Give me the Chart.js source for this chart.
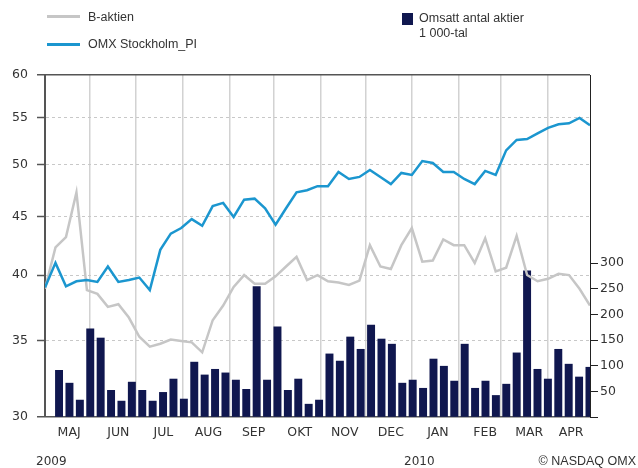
<!DOCTYPE html>
<html>
<head>
<meta charset="utf-8">
<script src="https://cdn.jsdelivr.net/npm/chart.js@4.4.0/dist/chart.umd.min.js"></script>
<style>
  body { margin: 0; background: #fff; }
  #wrap { position: relative; width: 638px; height: 468px; font-family: "Liberation Sans", Arial, sans-serif; color: #333; }
  canvas { position: absolute; left: 0; top: 0; }
  .lbl { position: absolute; font-size: 12.5px; line-height: 14px; white-space: nowrap; }
  .yr { position: absolute; font-family: "DejaVu Sans", sans-serif; font-size: 12px; line-height: 14px; }
  .sw { position: absolute; }
</style>
</head>
<body>
<div id="wrap">
  <canvas id="chart" width="638" height="468"></canvas>
  <div class="sw" style="left:47px;top:15px;width:33px;height:3px;background:#c6c6c6"></div>
  <div class="lbl" id="lgB" style="left:88px;top:10px"></div>
  <div class="sw" style="left:47px;top:43px;width:33px;height:3px;background:#1b96cf"></div>
  <div class="lbl" id="lgO" style="left:88px;top:37px"></div>
  <div class="sw" style="left:402px;top:13px;width:11px;height:12px;background:#10174f"></div>
  <div class="lbl" id="lgV" style="left:419px;top:11px"></div>
  <div class="lbl" style="left:419px;top:26px">1 000-tal</div>
  <div class="yr" style="left:36px;top:454px">2009</div>
  <div class="yr" style="left:404px;top:454px">2010</div>
  <div class="lbl" style="right:2px;top:454px">© NASDAQ OMX</div>
</div>
<script>
// weekly closes, May 2009 - Apr 2010
const bAktien = [38.9, 42.3, 43.2, 47.3, 38.8, 38.5, 37.5, 37.7, 36.7, 35.3,
                 34.6, 34.8, 35.1, 35.0, 34.9, 34.2, 36.5, 37.6, 39.05, 40.0,
                 39.3, 39.3, 39.9, 40.7, 41.5, 39.6, 40.0, 39.5, 39.4, 39.2,
                 39.55, 42.5, 40.7, 40.5, 42.5, 44.0, 41.1, 41.2, 43.0, 42.5,
                 42.5, 41.0, 43.1, 40.3, 40.6, 43.3, 40.0, 39.5, 39.7, 40.1,
                 40.0, 38.9, 37.6];
const omxPI = [39.0, 41.0, 39.1, 39.5, 39.6, 39.45, 40.7, 39.45, 39.6, 39.8,
               38.8, 42.1, 43.5, 44.0, 44.8, 44.2, 46.0, 46.3, 45.0, 46.6,
               46.7, 45.8, 44.3, 45.8, 47.3, 47.5, 47.9, 47.9, 49.3, 48.6,
               48.8, 49.5, 48.8, 48.1, 49.2, 49.0, 50.4, 50.2, 49.3, 49.3,
               48.6, 48.1, 49.4, 49.0, 51.5, 52.6, 52.7, 53.3, 53.9, 54.3,
               54.4, 55.0, 54.2];
// turnover, thousands of shares per week
const volume = [91, 66, 33, 172, 154, 52, 31, 68, 52, 31,
                48, 74, 35, 107, 82, 93, 86, 72, 54, 254,
                72, 176, 52, 74, 25, 33, 123, 109, 156, 132,
                179, 152, 142, 66, 72, 56, 113, 99, 70, 142,
                56, 70, 42, 64, 125, 285, 93, 74, 132, 103,
                78, 97];

const monthLabels = ['MAJ', 'JUN', 'JUL', 'AUG', 'SEP', 'OKT', 'NOV', 'DEC', 'JAN', 'FEB', 'MAR', 'APR'];
const monthTicks = [2.3, 7.0, 11.3, 15.6, 19.9, 24.3, 28.6, 33.0, 37.5, 42.0, 46.2, 50.2];
const monthStarts = [4.3, 8.7, 13.1, 17.6, 21.8, 26.3, 30.6, 35.0, 39.5, 43.5, 48.0];
const priceTicks = [30, 35, 40, 45, 50, 55, 60];
const volumeTicks = [0, 50, 100, 150, 200, 250, 300];

const labelB = 'B-aktien';
const labelO = 'OMX Stockholm_PI';
const labelV = 'Omsatt antal aktier';
document.getElementById('lgB').textContent = labelB;
document.getElementById('lgO').textContent = labelO;
document.getElementById('lgV').textContent = labelV;

const tickFont = { family: 'DejaVu Sans', size: 12.5 };
const isEdge = c => c.tick && (c.tick.value === 30 || c.tick.value === 60);

new Chart(document.getElementById('chart'), {
    type: 'line',
    data: {
        datasets: [
            {
                label: labelO,
                data: omxPI.map((v, i) => ({ x: i, y: v })),
                borderColor: '#1b96cf',
                borderWidth: 2.5,
                pointRadius: 0,
                xAxisID: 'x',
                yAxisID: 'y',
                order: 1
            },
            {
                label: labelB,
                data: bAktien.map((v, i) => ({ x: i, y: v })),
                borderColor: '#c6c6c6',
                borderWidth: 2.5,
                pointRadius: 0,
                xAxisID: 'x',
                yAxisID: 'y',
                order: 2
            },
            {
                type: 'bar',
                label: labelV,
                data: volume.map((v, i) => ({ x: i + 1, y: v })),
                backgroundColor: '#10174f',
                barThickness: 7.3,
                xAxisID: 'xb',
                yAxisID: 'y2',
                order: 3
            }
        ]
    },
    options: {
        responsive: false,
        animation: false,
        layout: { padding: { top: 75, left: 0, right: 0, bottom: 0 } },
        plugins: { legend: { display: false }, tooltip: { enabled: false } },
        scales: {
            x: {
                type: 'linear',
                position: 'bottom',
                min: 0,
                max: 52,
                offset: false,
                grid: { display: false, offset: false },
                border: { display: false },
                afterBuildTicks: s => { s.ticks = monthTicks.map(v => ({ value: v })); },
                afterFit: s => { s.height = 51; },
                ticks: {
                    autoSkip: false,
                    maxRotation: 0,
                    padding: 0,
                    color: '#333',
                    font: tickFont,
                    callback: (v, i) => monthLabels[i]
                }
            },
            xg: {
                type: 'linear',
                position: 'bottom',
                min: 0,
                max: 52,
                offset: false,
                afterBuildTicks: s => { s.ticks = monthStarts.map(v => ({ value: v })); },
                afterFit: s => { s.height = 0; },
                grid: { color: '#d2d2d2', lineWidth: 1.5, drawTicks: false, offset: false },
                border: { display: false },
                ticks: { display: false }
            },
            xb: {
                type: 'linear',
                display: false,
                min: 0,
                max: 52.4,
                offset: false,
                afterBuildTicks: s => { s.ticks = [{ value: 0 }]; }
            },
            y: {
                type: 'logarithmic',
                position: 'left',
                min: 30,
                max: 60,
                beginAtZero: false,
                z: 1,
                afterBuildTicks: s => { s.ticks = priceTicks.map(v => ({ value: v })); },
                afterFit: s => { s.width = 45; },
                grid: {
                    color: c => isEdge(c) ? '#555' : '#c8c8c8',
                    lineWidth: c => isEdge(c) ? 1.5 : 1,
                    tickColor: '#555',
                    tickLength: 8,
                    tickWidth: 1.5
                },
                border: {
                    color: '#555',
                    width: 2,
                    dash: c => (c.tick && !isEdge(c)) ? [3, 3] : []
                },
                ticks: {
                    padding: 9,
                    color: '#333',
                    font: tickFont,
                    callback: v => String(v)
                }
            },
            y2: {
                type: 'linear',
                position: 'right',
                min: 0,
                max: 666.7,
                afterBuildTicks: s => { s.ticks = volumeTicks.map(v => ({ value: v })); },
                afterFit: s => { s.width = 48; },
                grid: { drawOnChartArea: false, tickLength: 8, tickColor: '#222' },
                border: { color: '#222', width: 1 },
                ticks: {
                    padding: 2,
                    color: '#333',
                    font: tickFont,
                    callback: v => v === 0 ? '' : String(v)
                }
            }
        }
    }
});
</script>
</body>
</html>
